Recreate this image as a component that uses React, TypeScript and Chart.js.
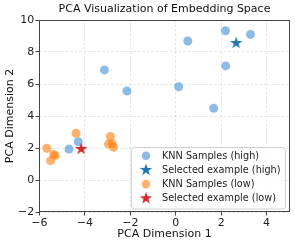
import React, { useEffect, useRef } from "react";
import { Chart, registerables } from "chart.js";

Chart.register(...registerables);

const TITLE = "PCA Visualization of Embedding Space";
const X_LABEL = "PCA Dimension 1";
const Y_LABEL = "PCA Dimension 2";

const xTicks = [-6, -4, -2, 0, 2, 4];
const yTicks = [-2, 0, 2, 4, 6, 8, 10];

const highX = [-3.14, -2.15, 0.53, 0.13, 2.19, 3.29, 2.2, 1.67, -4.7, -4.29];
const highY = [6.88, 5.56, 8.69, 5.83, 9.33, 9.1, 7.13, 4.48, 1.94, 2.39];
const selHighX = [2.66];
const selHighY = [8.56];
const lowX = [-5.68, -5.51, -5.38, -5.3, -4.39, -2.88, -2.96, -2.8, -2.74];
const lowY = [1.98, 1.21, 1.6, 1.52, 2.92, 2.72, 2.25, 2.28, 2.04];
const selLowX = [-4.16];
const selLowY = [1.94];

const labels = [
  "KNN Samples (high)",
  "Selected example (high)",
  "KNN Samples (low)",
  "Selected example (low)",
];

const FONT = "'DejaVu Sans', sans-serif";

function makeStar(color: string, R: number): HTMLCanvasElement {
  const size = Math.ceil(2 * R + 2);
  const c = document.createElement("canvas");
  c.width = size;
  c.height = size;
  const ctx = c.getContext("2d")!;
  const cx = size / 2;
  const cy = size / 2;
  ctx.beginPath();
  for (let i = 0; i < 10; i++) {
    const r = i % 2 === 0 ? R : R * 0.382;
    const a = -Math.PI / 2 + (i * Math.PI) / 5;
    ctx.lineTo(cx + r * Math.cos(a), cy + r * Math.sin(a));
  }
  ctx.closePath();
  ctx.fillStyle = color;
  ctx.fill();
  return c;
}

const zip = (xs: number[], ys: number[]) => xs.map((x, i) => ({ x, y: ys[i] }));

export default function App() {
  const ref = useRef<HTMLCanvasElement | null>(null);

  useEffect(() => {
    document.body.style.margin = "0";
    const canvas = ref.current!;
    const blueStar = makeStar("#1f77b4", 6.6);
    const redStar = makeStar("#d62728", 6.6);
    const blueFill = "rgba(60,138,210,0.58)";
    const orangeFill = "rgba(255,127,14,0.6)";

    const framePlugin = {
      id: "frame",
      afterDatasetsDraw(chart: any) {
        const { ctx, chartArea: a } = chart;
        ctx.save();
        ctx.strokeStyle = "#444";
        ctx.lineWidth = 1;
        ctx.strokeRect(a.left + 0.5, a.top + 0.5, a.right - a.left - 1, a.bottom - a.top - 1);
        ctx.restore();
      },
    };

    const legendPlugin = {
      id: "customLegend",
      afterDraw(chart: any) {
        const { ctx, chartArea: a } = chart;
        const right = a.right - 4.5;
        const bottom = a.bottom - 3;
        const left = a.left + 92.5;
        const top = a.top + 127.5;
        ctx.save();
        const r = 3;
        ctx.beginPath();
        ctx.moveTo(left + r, top);
        ctx.lineTo(right - r, top);
        ctx.quadraticCurveTo(right, top, right, top + r);
        ctx.lineTo(right, bottom - r);
        ctx.quadraticCurveTo(right, bottom, right - r, bottom);
        ctx.lineTo(left + r, bottom);
        ctx.quadraticCurveTo(left, bottom, left, bottom - r);
        ctx.lineTo(left, top + r);
        ctx.quadraticCurveTo(left, top, left + r, top);
        ctx.closePath();
        ctx.fillStyle = "rgba(255,255,255,0.8)";
        ctx.fill();
        ctx.strokeStyle = "#d0d0d0";
        ctx.lineWidth = 1;
        ctx.stroke();

        const mx = a.left + 107;
        const tx = a.left + 123;
        const y0 = a.top + 135.7;
        const dy = 14.2;
        ctx.font = `9.7px ${FONT}`;
        ctx.fillStyle = "#222";
        ctx.textBaseline = "middle";
        ctx.textAlign = "left";
        labels.forEach((lab, i) => {
          const y = y0 + i * dy;
          if (i === 0 || i === 2) {
            ctx.beginPath();
            ctx.arc(mx, y, 4.3, 0, Math.PI * 2);
            ctx.fillStyle = i === 0 ? blueFill : orangeFill;
            ctx.fill();
          } else {
            const img = i === 1 ? blueStar : redStar;
            ctx.drawImage(img, mx - img.width / 2, y - img.height / 2);
          }
          ctx.fillStyle = "#222";
          ctx.fillText(lab, tx, y + 0.5);
        });
        ctx.restore();
      },
    };

    const chart = new Chart(canvas, {
      type: "scatter",
      data: {
        datasets: [
          {
            label: labels[0],
            data: zip(highX, highY),
            backgroundColor: blueFill,
            borderWidth: 0,
            pointRadius: 4.5,
            order: 4,
          },
          {
            label: labels[1],
            data: zip(selHighX, selHighY),
            pointStyle: blueStar as any,
            backgroundColor: "#1f77b4",
            borderWidth: 0,
            order: 3,
          },
          {
            label: labels[2],
            data: zip(lowX, lowY),
            backgroundColor: orangeFill,
            borderWidth: 0,
            pointRadius: 4.5,
            order: 2,
          },
          {
            label: labels[3],
            data: zip(selLowX, selLowY),
            pointStyle: redStar as any,
            backgroundColor: "#d62728",
            borderWidth: 0,
            order: 1,
          },
        ],
      },
      options: {
        responsive: false,
        animation: false,
        devicePixelRatio: 1,
        layout: { padding: { left: 0, right: 5, top: 0, bottom: 0 } },
        plugins: {
          legend: { display: false },
          tooltip: { enabled: false },
          title: {
            display: true,
            text: TITLE,
            fullSize: false,
            color: "#111",
            font: { family: FONT, size: 11, weight: "normal" },
            padding: { top: 2.8, bottom: 4 },
          },
        },
        scales: {
          x: {
            type: "linear",
            min: -6.02,
            max: 5.03,
            afterBuildTicks: (s: any) => {
              s.ticks = xTicks.map((v) => ({ value: v }));
            },
            afterFit: (s: any) => {
              s.height = 33;
            },
            ticks: {
              color: "#222",
              font: { family: FONT, size: 11 },
              padding: 1,
              maxRotation: 0,
              autoSkip: false,
              callback: (v: any) => String(v).replace("-", "\u2212"),
            },
            grid: {
              color: "rgba(0,0,0,0.13)",
              lineWidth: 0.8,
              tickColor: "#444",
              tickLength: 3.5,
              tickWidth: 1,
              tickBorderDash: [],
              borderDash: [2.5, 2],
            } as any,
            border: { display: false, dash: [2.5, 2] },
            title: {
              display: true,
              text: X_LABEL,
              color: "#111",
              font: { family: FONT, size: 11 },
              padding: { top: 0, bottom: 4 },
            },
          },
          y: {
            type: "linear",
            min: -2,
            max: 10,
            afterBuildTicks: (s: any) => {
              s.ticks = yTicks.map((v) => ({ value: v }));
            },
            afterFit: (s: any) => {
              s.width = 39;
            },
            ticks: {
              color: "#222",
              font: { family: FONT, size: 11 },
              padding: 1.2,
              autoSkip: false,
              callback: (v: any) => String(v).replace("-", "\u2212"),
            },
            grid: {
              color: "rgba(0,0,0,0.13)",
              lineWidth: 0.8,
              tickColor: "#444",
              tickLength: 3.5,
              tickWidth: 1,
              tickBorderDash: [],
              borderDash: [2.5, 2],
            } as any,
            border: { display: false, dash: [2.5, 2] },
            title: {
              display: true,
              text: Y_LABEL,
              color: "#111",
              font: { family: FONT, size: 11 },
              padding: { top: 3.4, bottom: 0 },
            },
          },
        },
      },
      plugins: [framePlugin, legendPlugin],
    });
    return () => chart.destroy();
  }, []);

  return (
    <div style={{ position: "absolute", left: 0, top: 0, width: 295, height: 245 }}>
      <canvas ref={ref} width={295} height={245} />
    </div>
  );
}
